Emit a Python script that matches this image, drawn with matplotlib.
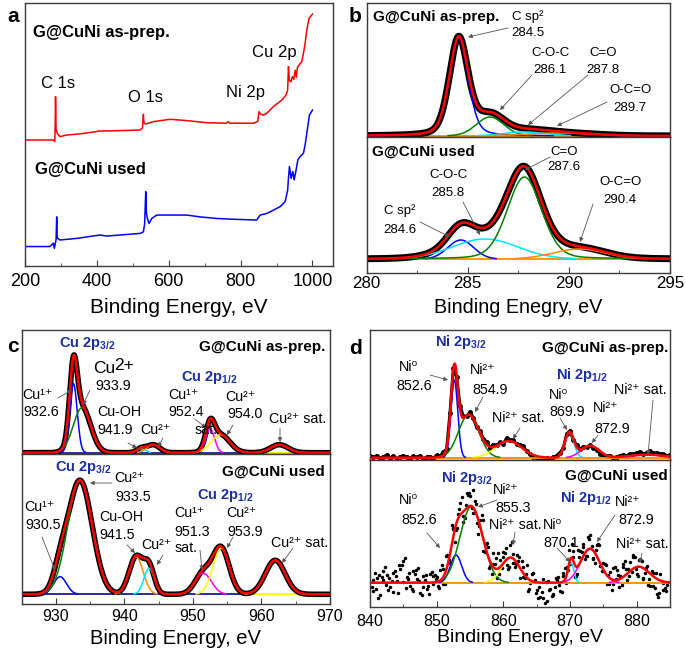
import numpy as np
import matplotlib
matplotlib.use('Agg')
import matplotlib.pyplot as plt
from matplotlib.patches import FancyArrowPatch

plt.rcParams['font.family'] = ['Liberation Sans', 'DejaVu Sans']
plt.rcParams['mathtext.fontset'] = 'custom'
plt.rcParams['mathtext.rm'] = 'Liberation Sans'
plt.rcParams['mathtext.it'] = 'Liberation Sans:italic'
plt.rcParams['mathtext.bf'] = 'Liberation Sans:bold'
plt.rcParams['mathtext.default'] = 'regular'

W, H = 685, 654

# ---------------- a: survey spectra (binding energy, counts a.u.)
survey_prep_e = [200, 270, 279, 283, 283.8, 285, 286.5, 290, 297.5, 316, 350, 399.5, 404, 470, 520,
                 527, 529.5, 531, 536, 557, 604, 650, 706, 760, 765, 770, 836, 848, 851, 855, 863.6,
                 873, 891, 914.6, 926.7, 931, 933.2, 936, 940, 944, 948, 952, 955, 958, 963, 970.3,
                 975, 979.6, 984.2, 990.7, 1000]
survey_prep_i = [47.9, 47.9, 47.9, 47.3, 52, 64.4, 52, 50.4, 49.2, 49.8, 50.2, 51.1, 51.3, 51.5, 51.7,
                 52.5, 57.7, 54.5, 54.0, 54.9, 55.8, 55.3, 54.5, 54.3, 54.9, 54.3, 54.3, 55, 58.7, 57.8, 57.4,
                 58.1, 60.6, 63.1, 65.1, 67, 75.9, 70.5, 70.1, 72.0, 71.0, 74.5, 71.8, 75.5, 76.5, 77.8,
                 81.0, 84.7, 89.8, 94.3, 95.9]
survey_used_e = [200, 269.6, 274.2, 278.9, 281.7, 286.5, 288.2, 289.5, 291, 297.5, 343.9, 408.8, 427.4,
                 520.2, 529.5, 533, 536, 538, 540.6, 545.3, 552.7, 566.6, 650.1, 687.3, 733.7, 780.1, 845,
                 854.3, 872.9, 910, 923.9, 931, 933, 936, 940.6, 945.3, 949, 954.6, 959.2, 965.7, 970.3,
                 975, 979.6, 984.2, 991.6, 1000]
survey_used_i = [7.3, 7.3, 7.9, 8.6, 6.6, 10, 18.6, 11, 10.4, 9.8, 10.4, 11.7, 11.3,
                 12.3, 12.9, 16, 28.2, 20, 18.0, 16.1, 18.0, 19.3, 19.3, 18.6, 18.0, 17.7, 17.4,
                 19.3, 19.9, 22.5, 24.4, 28.8, 33, 37.8, 33.3, 35.9, 32.7, 36.5, 40.3, 41.6, 42.2,
                 42.9, 46.1, 50.4, 57.4, 59.3]

# ---------------- b: C 1s fitted components (centre eV, height, FWHM)
b_prep_c = [284.55, 286.1, 287.8, 289.5]
b_prep_h = [98, 19, 4, 3]
b_prep_w = [1.1, 1.6, 2.5, 4.0]
b_prep_eta = [0.3, 0.1, 0.0, 0.0]
b_prep_col = ['#0000ff', '#008000', '#00e5ff', '#ff8c00']
b_used_c = [284.65, 285.85, 287.8, 290.5]
b_used_h = [19, 20, 82, 10]
b_used_w = [1.5, 3.8, 2.0, 3.0]
b_used_eta = [0.0, 0.0, 0.2, 0.0]
b_used_col = ['#0000ff', '#00e5ff', '#008000', '#ff8c00']

# ---------------- c: Cu 2p fitted components
c_prep_c = [932.55, 933.8, 942.4, 944.2, 952.5, 954.0, 962.6]
c_prep_h = [69, 45, 4, 8, 24, 18, 8]
c_prep_w = [1.3, 3.0, 1.5, 2.2, 1.5, 3.2, 3.0]
c_prep_col = ['#0000ff', '#008000', '#00e5ff', '#ff8c00', '#ff00ff', '#ffff00', '#ffff00']
c_used_c = [930.6, 933.5, 941.7, 943.6, 951.5, 954.1, 962.0]
c_used_h = [17.6, 114, 37.6, 26, 21, 46, 34]
c_used_w = [2.2, 4.2, 2.4, 1.8, 2.8, 2.8, 3.4]
c_used_col = ['#0000ff', '#008000', '#ff8c00', '#00e5ff', '#ff00ff', '#ffff00', '#ffff00']

# ---------------- d: Ni 2p fitted components
d_prep_c = [852.65, 854.8, 860.8, 869.9, 873.0, 881.5]
d_prep_h = [77.7, 43, 16.7, 25, 12, 3]
d_prep_w = [1.2, 3.6, 4.6, 1.6, 3.2, 6.0]
d_prep_col = ['#0000ff', '#008000', '#ffff00', '#00e5ff', '#ff00ff', '#ff00ff']
d_used_c = [852.9, 855.2, 861.1, 870.15, 873.0, 880.3]
d_used_h = [27.7, 76, 25, 20, 34, 16]
d_used_w = [2.0, 4.0, 3.2, 1.0, 3.4, 3.8]
d_used_col = ['#0000ff', '#008000', '#ffff00', '#00e5ff', '#ff00ff', '#ff00ff']

# measured scatter of the Ni 2p data around the fit (0.5 eV steps)
d_prep_res = [1.5, 0.5, 2.0, -0.5, 1.0, 2.5, 0.0, 1.5, -1.0, 1.0, 2.0, 0.5, -0.5, 1.5, 0.5, 2.0,
              -1.0, 0.5, 1.0, -0.5, 2.0, 1.0, 3.0, -1.5, 2.5, 1.0, -2.0, 2.5, 1.5, -1.0, 3.0, 0.5,
              -2.0, 2.0, 1.0, 3.0, -1.0, 2.5, 0.5, 1.5, -1.5, 3.0, 1.0, 2.0, -0.5, 1.5, 2.5, 0.0,
              -1.0, -2.5, -1.5, -2.0, -3.0, -1.0, -2.0, 0.5, 1.5, 2.0, -1.0, 2.5, 1.0, -1.5, 2.0,
              0.5, 1.5, -1.0, 0.5, -2.0, -1.0, -2.5, -1.5, -0.5, 0.5, -1.0, 0.0, 1.0, 1.5, 0.5,
              2.0, 1.0, 2.5, 3.0, 1.0, 2.0, 3.5, 1.5, 2.5, 1.0, 2.0, 0.5, 1.5]
d_used_res_a = [-8, 5, -12, 3, 8, -4, 10, 2, 14, 22, 6, -3, 12, 4, -10, 7, -6, 9, -2, 5, 11, -7,
                13, -9, 8, -6, 12, -4, 15, 10, 18, -8, 6, -12, 9, -5, 14, -9, 7, 11, -6, 13, -4, 8,
                -10, 6, 12, -3, 9, -8, -14, 4, -18, -6, -11, 3, -9, 5, 8, -4, 10, -7, 12, 9, -5, 14,
                -8, 11, -3, 7, -9, 6, -4, 10, 3, 13, -6, 9, 12, -7, 8, -10, 5, -12, 3, -15, 6, -8, -3]
d_used_res_b = [-4, 10, -15, 6, 16, -7, 2, 12, -10, 18, 25, 4, -6, 9, 15, -12, 3, -3, 11, 7, -5, 14,
                -11, 6, 20, -13, 4, 16, -8, 12, -2, 9, -14, 17, -6, 10, -9, 5, 15, -3, 8, -11, 16, -7,
                4, 10, -2, -12, 7, 2, -16, -9, -20, 2, -13, -4, 6, -10, 11, -3, 14, -12, 16, 7, -6,
                12, 3, -10, 15, -5, 8, 2, -11, 13, 5, -7, 15, 4, -2, 11, -9, 6, -4, -13, 4, -10, -17,
                0, -6]
d_used_res_c = [3, -6, 8, 12, -2, 5, -9, 7, 18, 1, -5, 10, -8, 13, 2, -4, 8, -11, 6, 3, -7, 9, 15,
                -3, 11, -5, 7, -10, 4, 13, -6, 9, -3, 16, 5, -8, 2, 11, -6, 7, 12, -9, 4, -2, 10,
                -5, 3, -9, 8, -11, -4, -15, 1, -7, -12, 5, -3, 9, -6, 12, 2, -9, 7, 13, -4, 10, -8,
                5, 16, -3, 9, -6, 12, 1, -8, 10, 6, -4, 14, -2, 7, -11, 2, -6, -10, 5, -13, -2, -9]


def peak(x, c, h, w, eta=0.0):
    u = (x - c) / w
    return h * ((1 - eta) * np.exp(-4 * np.log(2) * u ** 2) + eta / (1 + 4 * u ** 2))


def fit(x, cs, hs, ws, etas=None):
    if etas is None:
        etas = [0.0] * len(cs)
    return [peak(x, c, h, w, e) for c, h, w, e in zip(cs, hs, ws, etas)]


fig = plt.figure(figsize=(W / 100, H / 100), dpi=100)


def box(l, t, r, b):
    return fig.add_axes([l / W, 1 - b / H, (r - l) / W, (b - t) / H])


def txt(x, y, s, size=10.5, ha='center', **kw):
    fig.text(x / W, 1 - y / H, s, fontsize=size, ha=ha, va='center', **kw)


def arrow(x0, y0, x1, y1):
    fig.add_artist(FancyArrowPatch(posA=(x0 / W, 1 - y0 / H), posB=(x1 / W, 1 - y1 / H),
                                   transform=fig.transFigure, arrowstyle='-|>', mutation_scale=6,
                                   color='#555555', lw=0.6, shrinkA=0, shrinkB=0))


def frame(ax, xlim, ylim, major=None, minor=None, fs=12, pad=4):
    ax.set_xlim(xlim)
    ax.set_ylim(ylim)
    ax.set_yticks([])
    for s in ax.spines.values():
        s.set_color('#3a3a3a')
        s.set_linewidth(1.0)
    if major is None:
        ax.set_xticks([])
        return
    ax.set_xticks(major)
    ax.set_xticks(minor, minor=True)
    ax.tick_params(axis='x', which='both', direction='in', top=False, labelsize=fs, pad=pad,
                   color='#3a3a3a')
    ax.tick_params(axis='x', which='major', length=4)
    ax.tick_params(axis='x', which='minor', length=2.5)


def xlab(ax, s, fs, top_px, bottom_px, height_px):
    ax.set_xlabel(s, fontsize=fs)
    ax.xaxis.set_label_coords(0.5, -(top_px - bottom_px) / height_px)


def draw_fit(ax, x, comps, cols, data_lw=4.0):
    total = np.sum(comps, axis=0)
    if data_lw:
        ax.plot(x, total, color='black', lw=data_lw, solid_capstyle='round')
    for comp, col in zip(comps, cols):
        ax.plot(x, np.where(comp > 0.4, comp, np.nan), color=col, lw=1.1)
    return total


# ======================= panel a
ax = box(25, 3.3, 333.3, 265.7)
ax.plot(survey_prep_e, survey_prep_i, color='#ff0000', lw=1.1)
ax.plot(survey_used_e, survey_used_i, color='#0000ff', lw=1.1)
frame(ax, (200, 1058), (0, 100), [200, 400, 600, 800, 1000], [300, 500, 700, 900], fs=13, pad=5.5)
xlab(ax, 'Binding Energy, eV', 15, 297.8, 265.7, 262.4)

txt(13, 17, 'a', 15, fontweight='bold')
txt(33, 33, 'G@CuNi as-prep.', 12, ha='left', fontweight='bold')
txt(35, 170, 'G@CuNi used', 12, ha='left', fontweight='bold')
txt(58, 83, 'C 1s', 12)
txt(145, 97, 'O 1s', 12)
txt(245, 93, 'Ni 2p', 12)
txt(274, 52, 'Cu 2p', 12)

# ======================= panel b
xb = np.linspace(280, 295, 601)
ax = box(366.7, 3.3, 670, 137)
ax.plot(xb, np.zeros_like(xb), color='#ff8c00', lw=1.3)
tot = draw_fit(ax, xb, fit(xb, b_prep_c, b_prep_h, b_prep_w, b_prep_eta), b_prep_col, 5.0)
ax.plot(xb, tot, color='#ff0000', lw=1.8)
frame(ax, (280, 295), (-1, 132.7))

ax = box(366.7, 137, 670, 272.7)
ax.plot(xb, np.zeros_like(xb), color='#ff8c00', lw=1.3)
tot = draw_fit(ax, xb, fit(xb, b_used_c, b_used_h, b_used_w, b_used_eta), b_used_col, 5.0)
ax.plot(xb, tot, color='#ff0000', lw=1.8)
frame(ax, (280, 295), (-13.7, 122), [280, 285, 290, 295], [282.5, 287.5, 292.5], fs=12.2, pad=2.5)
xlab(ax, 'Binding Enegry, eV', 14.2, 298, 272.7, 135.7)

txt(355, 17, 'b', 15, fontweight='bold')
txt(373, 17, 'G@CuNi as-prep.', 11, ha='left', fontweight='bold')
txt(528, 17, 'C sp²', 9.5)
txt(528, 33, '284.5', 9.5)
arrow(508, 28, 468, 37)
txt(550, 53, 'C-O-C', 9.5)
txt(550, 70, '286.1', 9.5)
arrow(532, 75, 500, 110)
txt(603, 53, 'C=O', 9.5)
txt(603, 70, '287.8', 9.5)
arrow(588, 75, 528, 125)
txt(630, 90, 'O-C=O', 9.5)
txt(630, 108, '289.7', 9.5)
arrow(607, 102, 557, 126)

txt(372, 152, 'G@CuNi used', 11, ha='left', fontweight='bold')
txt(564, 152, 'C=O', 9.5)
txt(564, 167, '287.6', 9.5)
arrow(550, 157, 525, 170)
txt(620, 182, 'O-C=O', 9.5)
txt(620, 200, '290.4', 9.5)
arrow(593, 204, 580, 242)
txt(448, 175, 'C-O-C', 9.5)
txt(448, 193, '285.8', 9.5)
arrow(463, 202, 480, 235)
txt(400, 211, 'C sp²', 9.5)
txt(400, 230, '284.6', 9.5)
arrow(420, 222, 450, 237)

# ======================= panel c
xc = np.linspace(925, 970, 901)
navy = '#1a1a9a'
ax = box(21.7, 330, 330, 454.3)
ax.plot([925, 970], [0, 0], color=navy, lw=1.3)
ax.plot([958, 967], [0, 0], color='#ffff00', lw=1.3)
tot = draw_fit(ax, xc, fit(xc, c_prep_c, c_prep_h, c_prep_w), c_prep_col, 4.0)
ax.plot(xc, tot, color='#ff0000', lw=1.8)
frame(ax, (925, 970), (-1.6, 122.7))

ax = box(21.7, 454.3, 330, 604)
ax.plot([925, 958], [0, 0], color=navy, lw=1.3)
ax.plot([958, 967], [0, 0], color='#ffff00', lw=1.3)
tot = draw_fit(ax, xc, fit(xc, c_used_c, c_used_h, c_used_w), c_used_col, 4.0)
ax.plot(xc, tot, color='#ff0000', lw=1.8)
frame(ax, (925, 970), (-9.7, 140), [930, 940, 950, 960, 970], [935, 945, 955, 965], fs=11.5, pad=3.6)
xlab(ax, 'Binding Energy, eV', 14.5, 629.2, 604, 149.7)

sub = '#1c2fa0'
fl = 10.3
txt(13, 347, 'c', 15, fontweight='bold')
txt(87, 343, r'Cu 2p$_{\mathbf{3/2}}$', 10.5, fontweight='bold', color=sub)
txt(325, 347, 'G@CuNi as-prep.', 11, ha='right', fontweight='bold')
txt(93, 369, 'Cu', 12.5, ha='left')
txt(114, 366, '2+', 12.5, ha='left')
txt(113, 386, '933.9', fl)
arrow(90, 390, 83, 405)
txt(37, 395, 'Cu¹⁺', fl)
txt(41, 412, '932.6', fl)
arrow(58, 398, 72, 390)
txt(119, 412, 'Cu-OH', fl)
txt(115, 430, '941.9', fl)
arrow(128, 443, 137, 448)
txt(155, 430, 'Cu²⁺', fl)
arrow(163, 438, 158, 447)
txt(209, 377, r'Cu 2p$_{\mathbf{1/2}}$', 10.5, fontweight='bold', color=sub)
txt(183, 395, 'Cu¹⁺', fl)
txt(186, 412, '952.4', fl)
txt(206, 430, 'sat.', fl)
arrow(195, 419, 206, 428)
txt(240, 397, 'Cu²⁺', fl)
txt(245, 414, '954.0', fl)
arrow(233, 425, 227, 435)
txt(298, 419, 'Cu²⁺ sat.', fl)
arrow(280, 428, 280, 442)

txt(83, 467, r'Cu 2p$_{\mathbf{3/2}}$', 10.5, fontweight='bold', color=sub)
txt(325, 472, 'G@CuNi used', 11, ha='right', fontweight='bold')
txt(129, 478, 'Cu²⁺', fl)
txt(133, 497, '933.5', fl)
arrow(112, 483, 90, 483)
txt(39, 507, 'Cu¹⁺', fl)
txt(43, 525, '930.5', fl)
arrow(42, 537, 55, 570)
txt(121, 517, 'Cu-OH', fl)
txt(117, 535, '941.5', fl)
arrow(127, 545, 135, 553)
txt(156, 545, 'Cu²⁺', fl)
arrow(163, 555, 157, 565)
txt(225, 495, r'Cu 2p$_{\mathbf{1/2}}$', 10.5, fontweight='bold', color=sub)
txt(189, 513, 'Cu¹⁺', fl)
txt(192, 532, '951.3', fl)
txt(186, 548, 'sat.', fl)
arrow(200, 550, 202, 570)
txt(241, 513, 'Cu²⁺', fl)
txt(245, 532, '953.9', fl)
arrow(233, 537, 227, 548)
txt(300, 543, 'Cu²⁺ sat.', fl)
arrow(293, 548, 282, 563)

# ======================= panel d
xd = np.linspace(840, 885, 901)
ax = box(370, 330, 670, 459.5)
comps = fit(xd, d_prep_c, d_prep_h, d_prep_w)
pts = 840 + 0.5 * np.arange(len(d_prep_res))
ax.plot(pts, np.sum(fit(pts, d_prep_c, d_prep_h, d_prep_w), axis=0) + np.array(d_prep_res),
        color='black', lw=2.2, marker='o', ms=2.5)
ax.plot(xd, np.zeros_like(xd), color='#ff8c00', lw=1.3)
tot = draw_fit(ax, xd, comps, d_prep_col, 0)
ax.plot(xd, tot, color='#ff0000', lw=1.8)
frame(ax, (840, 885), (-1.8, 127.7))

ax = box(370, 459.5, 670, 607)
comps = fit(xd, d_used_c, d_used_h, d_used_w)
for start, res in [(840.5, d_used_res_a), (840.25, d_used_res_b), (840.4, d_used_res_c)]:
    pts = start + 0.5 * np.arange(len(res))
    ax.plot(pts, np.sum(fit(pts, d_used_c, d_used_h, d_used_w), axis=0) + np.array(res),
            ls='none', marker='o', ms=1.5, color='black')
ax.plot(xd, np.zeros_like(xd), color='#ff8c00', lw=1.3)
tot = draw_fit(ax, xd, comps, d_used_col, 0)
ax.plot(xd, tot, color='#ff0000', lw=1.8)
frame(ax, (840, 885), (-24.3, 123.2), [840, 850, 860, 870, 880], [845, 855, 865, 875, 885],
      fs=11.5, pad=5)
xlab(ax, 'Binding Energy, eV', 14, 629.3, 607, 147.5)

txt(355, 348, 'd', 15, fontweight='bold')
txt(461, 342, r'Ni 2p$_{\mathbf{3/2}}$', 10.5, fontweight='bold', color=sub)
txt(668, 348, 'G@CuNi as-prep.', 11, ha='right', fontweight='bold')
txt(408, 367, 'Ni⁰', fl)
txt(414, 386, '852.6', fl)
arrow(430, 375, 448, 380)
txt(483, 370, 'Ni²⁺', fl)
txt(490, 390, '854.9', fl)
arrow(483, 397, 475, 412)
txt(518, 418, 'Ni²⁺ sat.', fl)
arrow(520, 428, 513, 439)
txt(582, 375, r'Ni 2p$_{\mathbf{1/2}}$', 10.5, fontweight='bold', color=sub)
txt(558, 395, 'Ni⁰', fl)
txt(567, 412, '869.9', fl)
arrow(560, 418, 567, 430)
txt(606, 408, 'Ni²⁺', fl)
txt(612, 429, '872.9', fl)
arrow(598, 435, 592, 443)
txt(640, 390, 'Ni²⁺ sat.', fl)
arrow(653, 400, 648, 455)

txt(467, 478, r'Ni 2p$_{\mathbf{3/2}}$', 10.5, fontweight='bold', color=sub)
txt(668, 476, 'G@CuNi used', 11, ha='right', fontweight='bold')
txt(506, 490, 'Ni²⁺', fl)
txt(513, 508, '855.3', fl)
arrow(497, 500, 478, 507)
txt(408, 500, 'Ni⁰', fl)
txt(419, 520, '852.6', fl)
arrow(427, 533, 440, 548)
txt(515, 525, 'Ni²⁺ sat.', fl)
arrow(515, 532, 513, 545)
txt(586, 498, r'Ni 2p$_{\mathbf{1/2}}$', 10.5, fontweight='bold', color=sub)
txt(553, 525, 'Ni⁰', fl)
txt(561, 543, '870.1', fl)
arrow(557, 548, 570, 562)
txt(628, 502, 'Ni²⁺', fl)
txt(636, 520, '872.9', fl)
arrow(615, 515, 597, 542)
txt(642, 544, 'Ni²⁺ sat.', fl)
arrow(642, 553, 640, 563)

fig.savefig('out.png', dpi=100)
